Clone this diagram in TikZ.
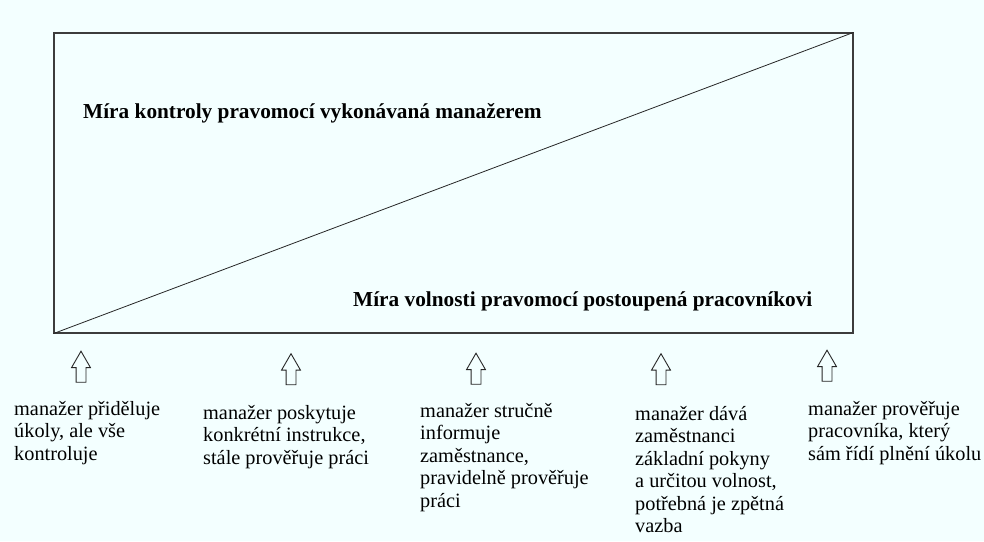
\documentclass[tikz,border=0pt]{standalone}
\usepackage{fontspec}
\setmainfont{Liberation Serif}
\usetikzlibrary{shapes.arrows}
\definecolor{bgcyan}{RGB}{243,255,255}
\definecolor{inkgray}{RGB}{60,60,60}

\begin{document}
\begin{tikzpicture}[x=1pt, y=1pt,
  upmark/.style={single arrow, draw=black!85, line width=0.9pt, rotate=90,
    minimum height=31pt, inner sep=4.5pt, single arrow head extend=4.5pt,
    single arrow tip angle=60, single arrow head indent=0pt},
  heading/.style={font=\bfseries\fontsize{21.3}{24}\selectfont, inner sep=0pt, anchor=west},
  note/.style={font=\fontsize{20.3}{22.5}\selectfont, align=left, anchor=north west, inner sep=0pt}]
  \useasboundingbox (0,0) rectangle (984,541);
  \fill[bgcyan] (0,0) rectangle (984,541);

  \node[draw=inkgray, line width=1.2pt, minimum width=799pt, minimum height=300pt, inner sep=0pt]
    (box) at (453.5,358) {};
  \draw[black!85, line width=0.8pt] (box.south west) -- (box.north east);
  \node[heading] (ctrl) at (83,428) {Míra kontroly pravomocí vykonávaná manažerem};
  \node[heading] (free) at (353,240) {Míra volnosti pravomocí postoupená pracovníkovi};

  \node[upmark] (a1) at (81,170) {};
  \node[upmark] (a2) at (291,167.5) {};
  \node[upmark] (a3) at (476,168) {};
  \node[upmark] (a4) at (661,167.5) {};
  \node[upmark] (a5) at (827,171) {};

  \node[note] (t1) at (14,140) {manažer přiděluje\\úkoly, ale vše\\kontroluje};
  \node[note] (t2) at (203,136) {manažer poskytuje\\konkrétní instrukce,\\stále prověřuje práci};
  \node[note] (t3) at (420,138) {manažer stručně\\informuje\\zaměstnance,\\pravidelně prověřuje\\práci};
  \node[note] (t4) at (635,135) {manažer dává\\zaměstnanci\\základní pokyny\\a určitou volnost,\\potřebná je zpětná\\vazba};
  \node[note] (t5) at (808,140) {manažer prověřuje\\pracovníka, který\\sám řídí plnění úkolu};
\end{tikzpicture}
\end{document}
